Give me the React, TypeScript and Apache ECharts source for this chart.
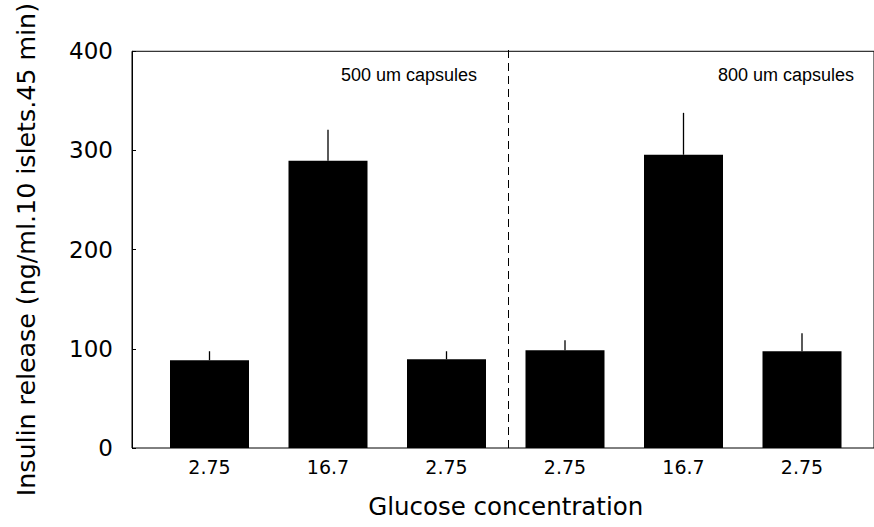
import React, { useEffect, useRef } from "react";
import * as echarts from "echarts";

const categories = ["2.75", "16.7", "2.75", "2.75", "16.7", "2.75"];
const insulinMean = [88, 288, 89, 98, 294, 97];
const errorTop = [97, 319, 97, 108, 336, 115];
const yTicks = { min: 0, max: 400, interval: 100 };
const groupLabels = ["500 um capsules", "800 um capsules"];
const xTitle = "Glucose concentration";
const yTitle = "Insulin release (ng/ml.10 islets.45 min)";

const WIDE = "'DejaVu Sans', Verdana, sans-serif";
const NARROW = "'Liberation Sans', Arial, sans-serif";

export default function App() {
  const ref = useRef<HTMLDivElement>(null);
  useEffect(() => {
    document.body.style.margin = "0";
    const chart = echarts.init(ref.current!, null, { renderer: "svg" });
    const option: any = {
      animation: false,
      backgroundColor: "#fff",
      grid: [
        {
          left: 132,
          right: -10,
          top: 49,
          bottom: 79,
          show: true,
          borderColor: "#000",
          borderWidth: 1,
          backgroundColor: "transparent",
        },
        { left: 150.25, right: 12.75, top: 49, bottom: 79 },
      ],
      xAxis: [
        { gridIndex: 0, type: "value", min: 0, max: 1, show: false },
        {
          gridIndex: 1,
          type: "category",
          data: categories,
          axisLine: { show: false },
          axisTick: { show: false },
          axisLabel: { fontSize: 19, color: "#000", fontFamily: WIDE, margin: 9 },
          name: xTitle,
          nameLocation: "middle",
          nameGap: 46,
          nameTextStyle: { fontSize: 24.5, color: "#000", fontFamily: WIDE },
        },
      ],
      yAxis: [
        {
          gridIndex: 0,
          type: "value",
          min: yTicks.min,
          max: yTicks.max,
          interval: yTicks.interval,
          axisLine: { show: true, lineStyle: { color: "#000", width: 1 } },
          axisTick: { show: true, inside: true, length: 4, lineStyle: { color: "#000" } },
          splitLine: { show: false },
          axisLabel: { fontSize: 23, color: "#000", fontFamily: WIDE, margin: 19 },
          name: yTitle,
          nameLocation: "middle",
          nameGap: 93,
          nameTextStyle: { fontSize: 25.3, color: "#000", fontFamily: WIDE },
        },
        { gridIndex: 1, type: "value", min: yTicks.min, max: yTicks.max, show: false },
      ],
      series: [
        {
          type: "bar",
          xAxisIndex: 1,
          yAxisIndex: 1,
          data: insulinMean,
          barWidth: 79,
          itemStyle: { color: "#000" },
        },
        {
          type: "custom",
          xAxisIndex: 1,
          yAxisIndex: 1,
          data: insulinMean.map((v, i) => [i, v, errorTop[i]]),
          renderItem: (params: any, api: any) => {
            const p1 = api.coord([api.value(0), api.value(1)]);
            const p2 = api.coord([api.value(0), api.value(2)]);
            return {
              type: "line",
              shape: { x1: p1[0], y1: p1[1], x2: p2[0], y2: p2[1] },
              style: { stroke: "#000", lineWidth: 1.3 },
            };
          },
          z: 3,
        },
      ],
      graphic: [
        {
          type: "line",
          shape: { x1: 508.5, y1: 50, x2: 508.5, y2: 448 },
          style: { stroke: "#000", lineWidth: 1, lineDash: [8, 5] },
        },
        {
          type: "text",
          x: 477,
          y: 75,
          style: {
            text: groupLabels[0],
            fontSize: 18,
            fontFamily: NARROW,
            fill: "#000",
            align: "right",
            verticalAlign: "middle",
          },
        },
        {
          type: "text",
          x: 854,
          y: 75,
          style: {
            text: groupLabels[1],
            fontSize: 18,
            fontFamily: NARROW,
            fill: "#000",
            align: "right",
            verticalAlign: "middle",
          },
        },
      ],
    };
    chart.setOption(option);
    return () => chart.dispose();
  }, []);
  return <div ref={ref} style={{ width: 874, height: 527 }} />;
}
